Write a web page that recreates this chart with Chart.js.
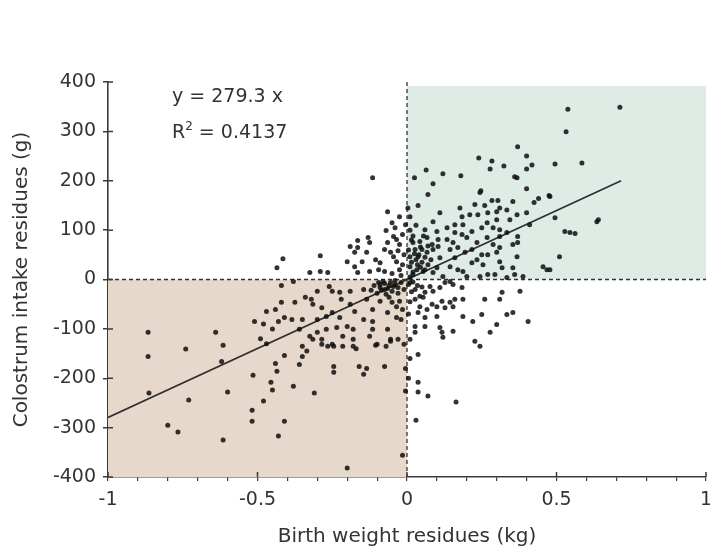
<!DOCTYPE html>
<html>
<head>
<meta charset="utf-8">
<script src="https://cdn.jsdelivr.net/npm/chart.js@4.4.1/dist/chart.umd.min.js"></script>
<style>
  html, body { margin: 0; padding: 0; background: #fff; }
</style>
</head>
<body>
<canvas id="chart" width="710" height="552"></canvas>
<script>
// residues: [birth weight (kg), colostrum intake (g)]
const lowerLeft = [
  [-0.866,-107],[-0.866,-156],[-0.863,-230],[-0.74,-141],[-0.64,-107],[-0.615,-133],[-0.62,-166],
  [-0.51,-85],[-0.515,-194],[-0.80,-295],[-0.766,-309],[-0.73,-244],[-0.60,-228],[-0.615,-325],
  [-0.518,-265],[-0.518,-287],
  [-0.35,-135],[-0.335,-145],[-0.41,-154],[-0.44,-170],[-0.435,-186],[-0.35,-156],[-0.36,-172],
  [-0.455,-208],[-0.45,-224],[-0.48,-246],[-0.38,-216],[-0.31,-230],[-0.41,-287],[-0.43,-317],
  [-0.265,-135],[-0.245,-135],[-0.215,-135],[-0.18,-135],[-0.17,-140],[-0.105,-133],[-0.07,-135],
  [-0.245,-176],[-0.245,-188],[-0.16,-176],[-0.135,-180],[-0.145,-192],[-0.075,-176],[-0.005,-180],
  [-0.005,-226],[-0.015,-356],[-0.20,-382],[-0.285,-121],[-0.315,-121],[-0.055,-125],
  [-0.42,-12],[-0.38,-4],[-0.30,-24],[-0.26,-14],[-0.25,-24],[-0.225,-26],[-0.19,-24],[-0.145,-20],
  [-0.09,-10],[-0.075,-20],[-0.055,-6],[-0.04,-2],[-0.08,-4],[-0.06,-12],[-0.04,-10],[-0.03,-16],
  [-0.02,-6],[-0.01,-20],[-0.05,-24],[-0.09,-16],[-0.11,-12],[-0.10,-28],[-0.07,-30],[-0.12,-22],
  [-0.085,-22],[-0.065,-18],[-0.045,-14],[-0.095,-6],[-0.075,-8],[-0.03,-28],[-0.06,-36],
  [-0.47,-65],[-0.44,-61],[-0.42,-46],[-0.375,-46],[-0.34,-36],[-0.32,-40],[-0.315,-50],[-0.285,-57],
  [-0.22,-40],[-0.19,-50],[-0.175,-65],[-0.25,-67],[-0.35,-81],[-0.30,-81],[-0.27,-75],[-0.225,-77],
  [-0.41,-77],[-0.385,-81],[-0.135,-40],[-0.115,-61],[-0.09,-44],[-0.065,-67],[-0.05,-46],[-0.035,-55],
  [-0.025,-44],[-0.015,-61],[-0.035,-77],[-0.02,-81],[-0.145,-81],[-0.115,-85],[-0.36,-101],
  [-0.325,-115],[-0.30,-107],[-0.27,-101],[-0.235,-97],[-0.20,-95],[-0.18,-101],[-0.215,-115],
  [-0.18,-121],[-0.125,-115],[-0.115,-101],[-0.065,-101],[-0.055,-121],[-0.03,-121],[-0.01,-131],
  [-0.285,-131],[-0.25,-131],[-0.10,-131],
  [-0.48,-90],[-0.45,-100],[-0.49,-120],[-0.43,-85],[-0.47,-130]
];
const upperLeft = [
  [-0.115,206],[-0.065,137],[-0.025,127],[-0.05,115],[-0.07,99],[-0.165,79],[-0.13,85],[-0.19,67],
  [-0.165,65],[-0.125,75],[-0.29,48],[-0.415,42],[-0.435,24],[-0.325,14],[-0.29,16],[-0.265,14],
  [-0.175,55],[-0.135,55],[-0.105,40],[-0.09,34],[-0.065,75],[-0.055,55],[-0.045,46],[-0.045,87],
  [-0.035,81],[-0.025,71],[-0.015,91],[-0.175,26],[-0.165,14],[-0.125,16],[-0.095,20],[-0.075,16],
  [-0.025,20],[-0.035,36],[-0.015,30],[-0.04,105],[-0.005,111],[-0.075,61],[-0.15,36],[-0.2,36],
  [-0.02,8],[-0.05,12],[-0.01,50],[-0.03,58]
];
const upperRight = [
  [0.538,345],[0.712,349],[0.532,299],[0.495,234],[0.585,236],[0.478,168],[0.495,125],[0.635,117],
  [0.528,97],[0.562,93],[0.545,95],[0.51,46],[0.478,20],[0.64,121],
  [0.37,269],[0.40,250],[0.24,246],[0.284,240],[0.324,230],[0.418,232],[0.40,224],[0.064,222],
  [0.12,214],[0.18,210],[0.278,224],[0.025,206],[0.36,208],[0.368,206],[0.087,194],[0.40,184],
  [0.247,180],[0.244,176],[0.07,172],[0.475,170],[0.44,164],[0.425,156],[0.354,158],[0.304,160],
  [0.284,160],[0.227,152],[0.26,150],[0.037,150],[0.177,145],[0.31,145],[0.003,145],
  [0.01,127],[0.11,135],[0.087,117],[0.184,127],[0.21,131],[0.237,131],[0.27,135],[0.30,137],
  [0.30,121],[0.334,141],[0.368,131],[0.40,135],[0.344,121],
  [0.06,101],[0.10,97],[0.134,105],[0.16,111],[0.187,111],[0.217,97],[0.25,105],[0.268,115],
  [0.288,105],[0.31,101],[0.334,95],[0.37,87],[0.41,111],[0.16,95],[0.184,91],
  [0.02,75],[0.067,85],[0.104,81],[0.134,81],[0.154,75],[0.20,85],[0.234,75],[0.268,85],
  [0.288,71],[0.31,87],[0.354,71],[0.37,75],[0.043,77],[0.084,71],
  [0.027,61],[0.05,61],[0.067,55],[0.087,61],[0.104,67],[0.144,61],[0.17,65],[0.194,55],
  [0.217,61],[0.25,50],[0.27,50],[0.30,55],[0.31,65],[0.368,46],[0.01,46],[0.037,46],
  [0.11,44],[0.16,44],[0.234,40],[0.31,36],
  [0.01,26],[0.033,20],[0.054,16],[0.087,14],[0.10,24],[0.144,26],[0.17,20],[0.187,16],
  [0.217,34],[0.254,30],[0.27,10],[0.294,10],[0.318,24],[0.334,4],[0.354,24],[0.36,10],
  [0.388,6],[0.455,26],[0.468,20],[0.02,10],[0.07,30],[0.12,6],[0.20,6],[0.244,6],
  [0.01,5],[0.02,15],[0.015,35],[0.03,40],[0.005,60],[0.02,88],[0.04,50],[0.05,35],
  [0.01,100],[0.03,110],[0.06,45],[0.045,25],
  [0.035,30],[0.06,20],[0.08,40],[0.025,52],[0.045,66],[0.07,68],[0.015,80],[0.055,88]
];
const lowerRight = [
  [0.01,-6],[0.027,-20],[0.043,-34],[0.06,-26],[0.077,-14],[0.087,-24],[0.11,-16],[0.127,-6],
  [0.144,-4],[0.154,-10],[0.184,-16],[0.187,-40],[0.26,-40],[0.31,-40],[0.318,-26],[0.378,-24],
  [0.027,-40],[0.043,-55],[0.054,-36],[0.067,-61],[0.084,-50],[0.10,-55],[0.117,-44],[0.127,-57],
  [0.144,-46],[0.16,-40],[0.154,-55],[0.10,-75],[0.187,-75],[0.25,-71],[0.22,-85],[0.334,-71],
  [0.354,-67],[0.405,-85],[0.30,-91],[0.037,-67],[0.06,-77],[0.027,-95],[0.06,-95],[0.11,-97],
  [0.117,-107],[0.12,-117],[0.154,-105],[0.278,-107],[0.227,-125],[0.244,-135],[0.027,-107],
  [0.01,-121],[0.037,-152],[0.037,-208],[0.037,-228],[0.03,-285],[0.07,-236],[0.164,-248],
  [0.005,-10],[0.015,-25],[0.02,-5],[0.035,-12],[0.01,-45],[0.05,-15],[0.005,-70],[0.01,-160],
  [0.005,-200]
];

const slope = 279.3;
const fitRange = [-1, 0.716];
const xTicksMajor = [-1, -0.5, 0, 0.5, 1];
const greenBox = [0, 1, 0, 392];     // x0, x1, y0, y1
const brownBox = [-1, 0, -400, 0];

const FONT = '"DejaVu Sans", Verdana, sans-serif';
const INK = '#3a3a3a';

const toPoints = arr => arr.map(p => ({ x: p[0], y: p[1] }));

const backdrop = {
  id: 'backdrop',
  beforeDatasetsDraw(chart) {
    const { ctx, scales: { x, y } } = chart;
    ctx.save();
    const box = (b, color) => {
      const l = x.getPixelForValue(b[0]), r = x.getPixelForValue(b[1]);
      const t = y.getPixelForValue(b[3]), btm = y.getPixelForValue(b[2]);
      ctx.fillStyle = color;
      ctx.fillRect(l, t, r - l, btm - t);
    };
    box(greenBox, '#dfebe5');
    box(brownBox, '#e6d8ca');

    ctx.strokeStyle = '#333';
    ctx.lineWidth = 1.3;
    ctx.setLineDash([4, 3]);
    ctx.beginPath();
    ctx.moveTo(x.getPixelForValue(0), y.getPixelForValue(400));
    ctx.lineTo(x.getPixelForValue(0), y.getPixelForValue(-400));
    ctx.moveTo(x.getPixelForValue(-1), y.getPixelForValue(0));
    ctx.lineTo(x.getPixelForValue(1), y.getPixelForValue(0));
    ctx.stroke();
    ctx.restore();
  },
  afterDraw(chart) {
    const { ctx, scales: { x, y } } = chart;
    ctx.save();
    // inner tick marks
    ctx.strokeStyle = INK;
    ctx.lineWidth = 1.5;
    ctx.beginPath();
    for (let v = -400; v <= 400; v += 100) {
      const py = y.getPixelForValue(v);
      ctx.moveTo(x.left, py);
      ctx.lineTo(x.left + 5, py);
    }
    xTicksMajor.forEach(v => {
      const px = x.getPixelForValue(v);
      ctx.moveTo(px, y.bottom);
      ctx.lineTo(px, y.bottom - 5);
    });
    ctx.stroke();

    // equation
    ctx.fillStyle = '#333';
    ctx.font = '19px ' + FONT;
    ctx.textBaseline = 'middle';
    ctx.textAlign = 'left';
    const tx = x.getPixelForValue(-0.786);
    ctx.fillText('y = 279.3 x', tx, y.getPixelForValue(370));
    const ry = y.getPixelForValue(297);
    ctx.fillText('R', tx, ry);
    const rw = ctx.measureText('R').width;
    ctx.font = '12px ' + FONT;
    ctx.fillText('2', tx + rw, ry - 6);
    const sw = ctx.measureText('2').width;
    ctx.font = '19px ' + FONT;
    ctx.fillText(' = 0.4137', tx + rw + sw, ry);
    ctx.restore();
  }
};

const allPoints = [].concat(lowerLeft, upperLeft, upperRight, lowerRight);

new Chart(document.getElementById('chart').getContext('2d'), {
  type: 'scatter',
  data: {
    datasets: [
      {
        label: 'residues',
        data: toPoints(allPoints),
        pointRadius: 2.5,
        pointBorderWidth: 0,
        pointBackgroundColor: 'rgba(15,15,15,0.85)',
        pointHoverRadius: 2.5,
      },
      {
        type: 'line',
        label: 'fit',
        data: fitRange.map(v => ({ x: v, y: slope * v })),
        borderColor: '#2e2e2e',
        borderWidth: 1.6,
        pointRadius: 0,
        fill: false,
      },
    ],
  },
  options: {
    responsive: false,
    animation: false,
    devicePixelRatio: 1,
    layout: { padding: { top: 82, right: 4, left: 0, bottom: 0 } },
    plugins: {
      legend: { display: false },
      tooltip: { enabled: false },
    },
    scales: {
      x: {
        type: 'linear',
        min: -1,
        max: 1,
        afterFit: s => { s.height = 75; s.paddingLeft = 0; s.paddingRight = 0; },
        ticks: {
          stepSize: 0.1,
          autoSkip: false,
          maxRotation: 0,
          padding: 8,
          color: '#333',
          font: { family: FONT, size: 19 },
          callback: v => (Math.abs(v * 2 - Math.round(v * 2)) < 1e-6 ? String(Math.round(v * 10) / 10) : ''),
        },
        grid: { drawOnChartArea: false, tickLength: 4, color: INK, lineWidth: 1.2 },
        border: { color: INK, width: 1.6 },
        title: {
          display: true,
          text: 'Birth weight residues (kg)',
          color: '#333',
          font: { family: FONT, size: 20 },
          padding: { top: 4, bottom: 3 },
        },
      },
      y: {
        min: -400,
        max: 400,
        afterFit: s => { s.width = 108; },
        ticks: {
          stepSize: 100,
          padding: 7,
          color: '#333',
          font: { family: FONT, size: 19 },
        },
        grid: { drawOnChartArea: false, tickLength: 5, color: INK, lineWidth: 1.5 },
        border: { color: INK, width: 1.6 },
        title: {
          display: true,
          text: 'Colostrum intake residues (g)',
          color: '#333',
          font: { family: FONT, size: 20 },
          padding: { top: 10, bottom: 4 },
        },
      },
    },
  },
  plugins: [backdrop],
});
</script>
</body>
</html>
